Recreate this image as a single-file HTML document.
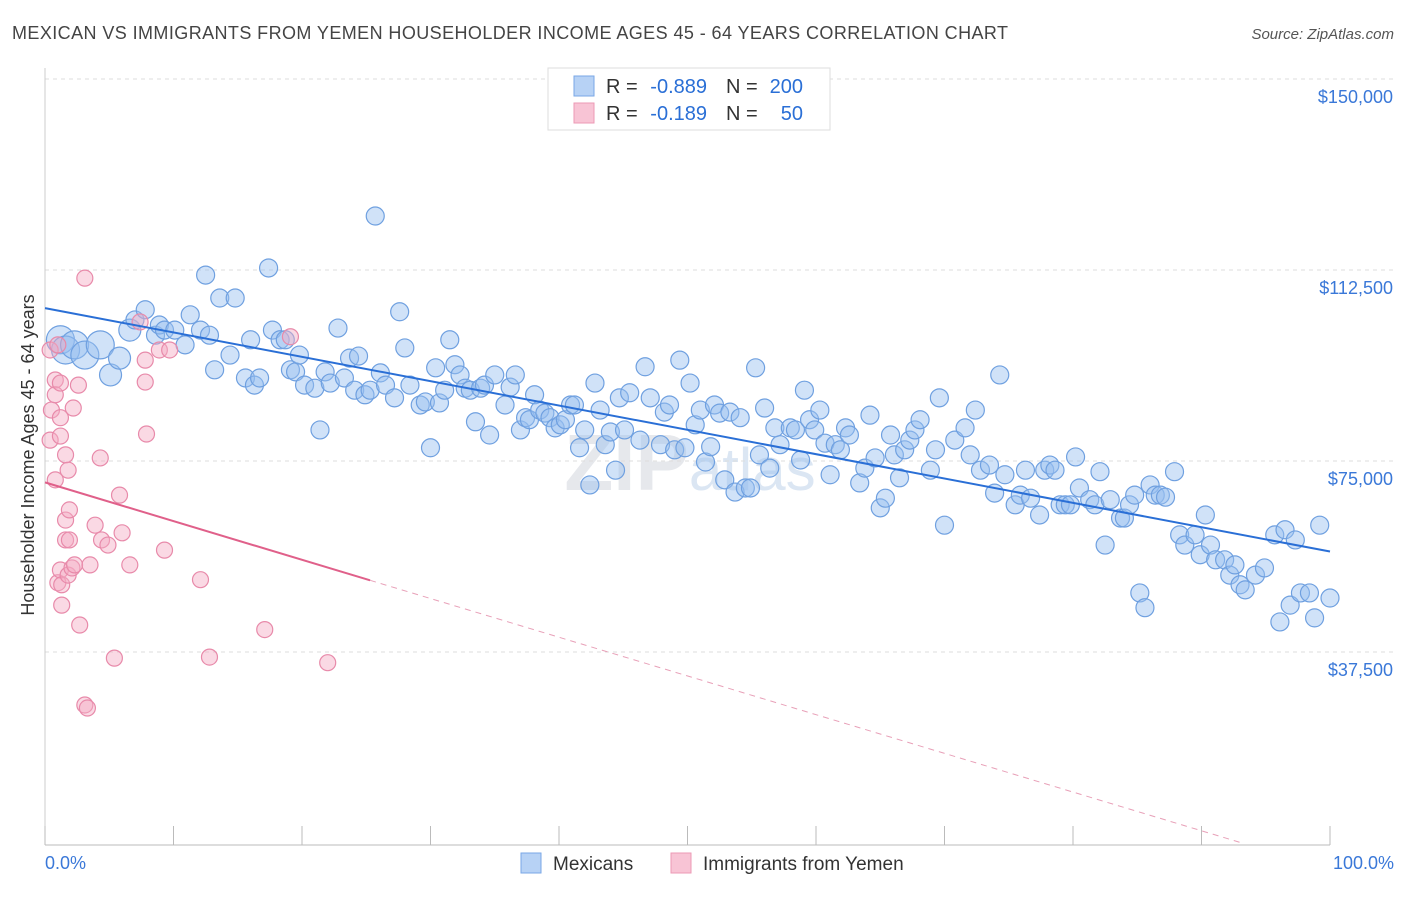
<!DOCTYPE html>
<html><head><meta charset="utf-8">
<style>
body{margin:0;background:#fff;font-family:"Liberation Sans",sans-serif;}
svg text{font-family:"Liberation Sans",sans-serif;}
</style></head>
<body>
<svg id="chart" width="1406" height="892" viewBox="0 0 1406 892">
<text x="12" y="39" font-size="18" fill="#444" textLength="996" lengthAdjust="spacing">MEXICAN VS IMMIGRANTS FROM YEMEN HOUSEHOLDER INCOME AGES 45 - 64 YEARS CORRELATION CHART</text>
<text x="1394" y="39" font-size="15" fill="#555" text-anchor="end" font-style="italic">Source: ZipAtlas.com</text>
<text x="690" y="490" font-size="80" fill="#e6e8ec" text-anchor="middle" font-weight="bold">ZIP<tspan font-weight="normal" font-size="60" fill="#dbe6f3">atlas</tspan></text>
<g id="grid"></g>
<g id="axes"></g>
<g id="pts"></g>
<g id="lines"></g>
<text transform="translate(34,455) rotate(-90)" font-size="18" fill="#333" text-anchor="middle">Householder Income Ages 45 - 64 years</text>
<text x="45" y="869" font-size="18" fill="#3a78d8">0.0%</text>
<text x="1394" y="869" font-size="18" fill="#3a78d8" text-anchor="end">100.0%</text>
<g>
<rect x="548" y="68" width="282" height="62" fill="#fff" stroke="#ddd"/>
<rect x="574" y="76" width="20" height="20" fill="#b7d2f5" stroke="#7aa7e6"/>
<rect x="574" y="103" width="20" height="20" fill="#f8c4d5" stroke="#ec9ab5"/>
<text x="606" y="93" font-size="20" fill="#333">R =</text>
<text x="707" y="93" font-size="20" fill="#2a6fd6" text-anchor="end">-0.889</text>
<text x="726" y="93" font-size="20" fill="#333">N =</text>
<text x="803" y="93" font-size="20" fill="#2a6fd6" text-anchor="end">200</text>
<text x="606" y="120" font-size="20" fill="#333">R =</text>
<text x="707" y="120" font-size="20" fill="#2a6fd6" text-anchor="end">-0.189</text>
<text x="726" y="120" font-size="20" fill="#333">N =</text>
<text x="803" y="120" font-size="20" fill="#2a6fd6" text-anchor="end">50</text>
</g>
<g>
<rect x="521" y="853" width="20" height="20" fill="#b7d2f5" stroke="#7aa7e6"/>
<text x="553" y="870" font-size="19" fill="#333">Mexicans</text>
<rect x="671" y="853" width="20" height="20" fill="#f8c4d5" stroke="#ec9ab5"/>
<text x="703" y="870" font-size="19" fill="#333">Immigrants from Yemen</text>
</g>
</svg>
<script>
const yTicks=[150000,112500,75000,37500];
const yTickLabels=["$150,000","$112,500","$75,000","$37,500"];
const blueX=[1.2,1.6,2.3,3.1,4.3,5.1,5.8,6.6,7.0,7.8,8.6,8.9,9.3,10.1,10.9,11.3,12.1,12.5,12.8,13.2,13.6,14.4,14.8,15.6,16.0,16.3,16.7,17.4,17.7,18.3,18.7,19.1,19.5,19.8,20.2,21.0,21.4,21.8,22.2,22.8,23.3,23.7,24.1,24.4,24.9,25.3,25.7,26.1,26.5,27.2,27.6,28.0,28.4,29.2,29.6,30.0,30.4,30.7,31.1,31.5,31.9,32.3,32.7,33.1,33.5,33.9,34.2,34.6,35.0,35.8,36.2,36.6,37.0,37.4,37.7,38.1,38.5,38.9,39.3,39.7,40.1,40.5,40.9,41.2,41.6,42.0,42.4,42.8,43.2,43.6,44.0,44.4,44.7,45.1,45.5,46.3,46.7,47.1,47.9,48.2,48.6,49.0,49.4,49.8,50.2,50.6,51.0,51.4,51.8,52.1,52.5,52.9,53.3,53.7,54.1,54.5,54.9,55.3,55.6,56.0,56.4,56.8,57.2,58.0,58.4,58.8,59.1,59.5,59.9,60.3,60.7,61.1,61.5,61.9,62.3,62.6,63.4,63.8,64.2,64.6,65.0,65.4,65.8,66.1,66.5,66.9,67.3,67.7,68.1,68.9,69.3,69.6,70.0,70.8,71.6,72.0,72.4,72.8,73.5,73.9,74.3,74.7,75.5,75.9,76.3,76.7,77.4,77.8,78.2,78.6,79.0,79.4,79.8,80.2,80.5,81.3,81.7,82.1,82.5,82.9,83.7,84.0,84.4,84.8,85.2,85.6,86.0,86.4,86.8,87.2,87.9,88.3,88.7,89.5,89.9,90.3,90.7,91.1,91.8,92.2,92.6,93.0,93.4,94.2,94.9,95.7,96.1,96.5,96.9,97.3,97.7,98.4,98.8,99.2,100];
const blueY=[98.8,96.8,97.8,95.8,97.8,91.9,95.2,100.7,102.7,104.7,99.7,101.7,100.7,100.7,97.8,103.7,100.7,111.5,99.7,92.9,107.0,95.8,107.0,91.3,98.8,89.9,91.3,112.9,100.7,98.8,98.8,92.9,92.5,95.8,89.9,89.3,81.1,92.5,90.3,101.1,91.3,95.2,88.9,95.6,88.0,88.9,123.1,92.3,89.9,87.4,104.3,97.2,89.9,86.0,86.6,77.6,93.3,86.4,88.9,98.8,93.9,91.9,89.3,88.9,82.7,89.3,89.9,80.1,91.9,86.0,89.5,91.9,81.1,83.5,83.1,88.0,85.0,84.4,83.5,81.5,82.1,83.1,86.0,86.0,77.6,81.1,70.3,90.3,85.0,78.2,80.7,73.2,87.4,81.1,88.4,79.1,93.5,87.4,78.2,84.6,86.0,77.2,94.8,77.6,90.3,82.1,85.0,74.8,77.8,86.0,84.4,71.3,84.6,68.9,83.5,69.7,69.7,93.3,76.2,85.4,73.6,81.5,78.2,81.5,81.1,75.2,88.9,83.1,81.1,85.0,78.5,72.3,78.2,77.2,81.5,80.1,70.7,73.6,84.0,75.6,65.8,67.7,80.1,76.2,71.7,77.2,79.1,81.1,83.1,73.2,77.2,87.4,62.4,79.1,81.5,76.2,85.0,73.2,74.2,68.7,91.9,72.3,66.4,68.3,73.2,67.7,64.4,73.2,74.2,73.2,66.4,66.4,66.4,75.8,69.7,67.4,66.4,72.9,58.5,67.4,63.8,63.8,66.4,68.3,49.1,46.2,70.3,68.3,68.3,67.9,72.9,60.5,58.5,60.5,56.6,64.4,58.5,55.6,55.6,52.6,54.6,50.7,49.7,52.6,54.0,60.5,43.4,61.5,46.7,59.5,49.1,49.1,44.2,62.4,48.1];
const pinkX=[0.4,0.5,0.4,0.8,0.8,1.0,1.2,1.2,0.8,1.0,1.2,1.3,1.3,1.6,1.6,1.6,1.8,1.8,1.9,1.9,2.1,2.2,2.3,2.6,2.7,3.1,3.1,3.3,3.5,3.9,4.3,4.4,4.9,5.4,5.8,6.0,6.6,7.4,7.8,7.8,7.9,8.9,9.3,9.7,12.1,12.8,17.1,19.1,22.0,1.2];
const pinkY=[96.8,85.0,79.1,90.9,88.0,97.8,83.5,79.9,71.3,51.1,53.6,46.7,50.7,63.4,59.5,76.2,73.2,52.6,65.4,59.5,54.0,85.4,54.6,89.9,42.8,110.9,27.1,26.5,54.6,62.4,75.6,59.5,58.5,36.3,68.3,60.9,54.6,102.3,94.8,90.5,80.3,96.8,57.5,96.8,51.7,36.5,41.9,99.4,35.4,90.3];
const pinkTrend=[70.8,-0.76];
const NS="http://www.w3.org/2000/svg";
const X0=45,X1=1330,Y150=79,PXPER=191/37.5;
function sx(p){return X0+(X1-X0)*p/100;}
function sy(k){return Y150+(150-k)*PXPER;}
function mk(tag,attrs,parent){const e=document.createElementNS(NS,tag);for(const k in attrs)e.setAttribute(k,attrs[k]);parent.appendChild(e);return e;}
const grid=document.getElementById('grid'),axes=document.getElementById('axes');
yTicks.forEach((v,i)=>{
  const y=sy(v/1000);
  const l=mk('line',{x1:X0,x2:1394,y1:y,y2:y,stroke:'#ddd','stroke-dasharray':'4,4'},grid);
  
  
  const t=mk('text',{x:1393,y:y+24,'font-size':18,fill:'#3a78d8','text-anchor':'end'},axes);
  t.textContent=yTickLabels[i];
  
  
});
const ax=mk('line',{x1:X0,x2:X1,y1:845,y2:845,stroke:'#bbb'},axes);


const ay=mk('line',{x1:X0,x2:X0,y1:68,y2:845,stroke:'#ccc'},axes);


for(let i=0;i<=10;i++){const x=sx(i*10);const t=mk('line',{x1:x,x2:x,y1:826,y2:845,stroke:'#bbb'},axes);

}
const pts=document.getElementById('pts');
blueX.forEach((x,i)=>{const r=i<5?14:(i<8?11:9);
 const c=mk('circle',{cx:sx(x),cy:sy(blueY[i]),r:r,fill:'rgba(150,190,240,0.45)',stroke:'#6fa0e0','stroke-width':1.2},pts);
 
 });
pinkX.forEach((x,i)=>{
 const c=mk('circle',{cx:sx(x),cy:sy(pinkY[i]),r:8,fill:'rgba(244,170,195,0.45)',stroke:'#e88aaa','stroke-width':1.2},pts);
 
 });
function reg(xs,ys){const n=xs.length;let mx=0,my=0;xs.forEach((x,i)=>{mx+=x;my+=ys[i];});mx/=n;my/=n;let a=0,b=0;xs.forEach((x,i)=>{a+=(x-mx)*(ys[i]-my);b+=(x-mx)*(x-mx);});const s=a/b;return [s,my-s*mx];}
const lines=document.getElementById('lines');
const [bs,bi]=reg(blueX,blueY);
const bl=mk('line',{x1:sx(0),y1:sy(bi),x2:sx(100),y2:sy(bi+bs*100),stroke:'#2a6fd6','stroke-width':2},lines);


const pi=pinkTrend[0],ps=pinkTrend[1];
const pmax=Math.max(...pinkX)+3.3;
const pl=mk('line',{x1:sx(0),y1:sy(pi),x2:sx(pmax),y2:sy(pi+ps*pmax),stroke:'#e0608a','stroke-width':2},lines);


let xe=ps<0?Math.min(100,-pi/ps):100;
const pd=mk('line',{x1:sx(pmax),y1:sy(pi+ps*pmax),x2:sx(xe),y2:sy(pi+ps*xe),stroke:'#e8a0b8','stroke-width':1,'stroke-dasharray':'6,5'},lines);


</script>
</body></html>
